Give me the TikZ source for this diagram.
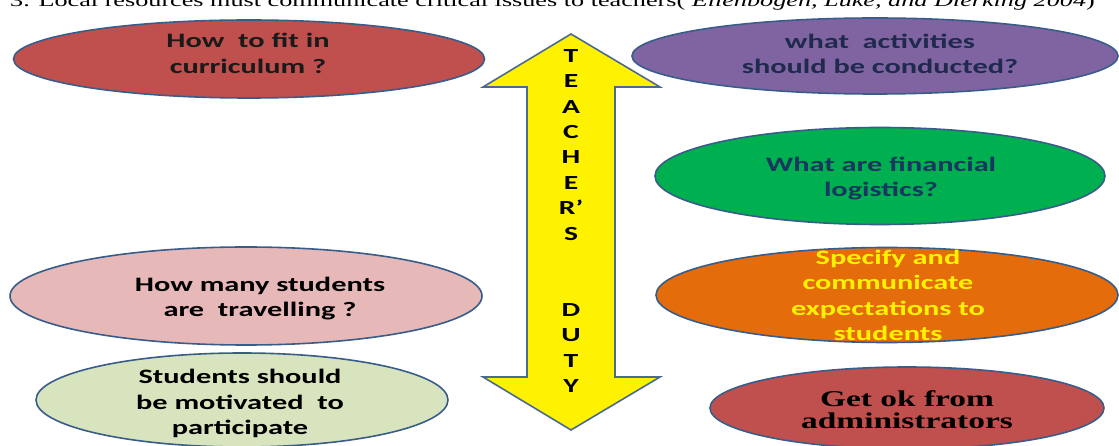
\documentclass[tikz,border=0pt]{standalone}
\usepackage{fontspec}
\setmainfont{Liberation Serif}
\newfontfamily\calb{Carlito}[FakeStretch=1.48]
\newfontfamily\timesb{Liberation Serif}[FakeStretch=1.48]
\usetikzlibrary{shapes.geometric}
\definecolor{bordc}{HTML}{385D8A}
\definecolor{arrowc}{HTML}{4A6A8F}
\definecolor{redc}{HTML}{C0504D}
\definecolor{purc}{HTML}{8064A2}
\definecolor{grnc}{HTML}{00B050}
\definecolor{orgc}{HTML}{E46C0A}
\definecolor{pinkc}{HTML}{E6B9B8}
\definecolor{lgrnc}{HTML}{D7E4BD}
\definecolor{navyc}{HTML}{1F2A4D}
\definecolor{navy2}{HTML}{17375E}
\definecolor{darkt}{HTML}{1A1A1A}
\tikzset{
  oval/.style={ellipse, draw=bordc, line width=1.6pt, inner sep=0pt},
  ovaltext/.style={align=center, inner sep=0pt, font=\calb\bfseries\fontsize{20.5}{25.5}\selectfont},
  serftext/.style={align=center, inner sep=0pt, font=\timesb\bfseries\fontsize{22.6}{22}\selectfont},
  dutytext/.style={align=center, inner sep=0pt, font=\calb\bfseries\fontsize{20}{25.4}\selectfont},
  bigarrow/.style={fill=yellow, draw=arrowc, line width=1.6pt, line join=miter}
}
\begin{document}
\begin{tikzpicture}[x=1pt,y=-1pt]
\useasboundingbox (0,0) rectangle (1119,446);
\clip (0,0) rectangle (1119,446);
\fill[white] (0,0) rectangle (1119,446);

\node[anchor=base west, inner sep=0pt, font=\timesb\fontsize{17.7}{19}\selectfont] (head) at (10,6.5)
  {3. Local resources must communicate critical issues to teachers( \textit{Ellenbogen, Luke, and Dierking 2004})};

% double arrow
\draw[bigarrow] (571,34) -- (660,87) -- (615,87) -- (615,377) -- (660,377) -- (571,430)
  -- (483,377) -- (527,377) -- (527,87) -- (483,87) -- cycle;
\node[dutytext] (duty) at (571,221) {T\\E\\A\\C\\H\\E\\R’\\S\\\mbox{}\\\mbox{}\\D\\U\\T\\Y};

% ellipses
\node[oval, fill=redc, minimum width=471pt, minimum height=78pt] (e1) at (249,59) {};
\node[oval, fill=purc, minimum width=486pt, minimum height=76pt] (e2) at (875,56) {};
\node[oval, fill=grnc, minimum width=450pt, minimum height=97pt] (e3) at (880,176) {};
\node[oval, fill=orgc, minimum width=462pt, minimum height=95pt] (e4) at (887,295) {};
\node[oval, fill=redc, minimum width=394pt, minimum height=82pt] (e5) at (907,408) {};
\node[oval, fill=pinkc, minimum width=472pt, minimum height=98pt] (e6) at (246,296) {};
\node[oval, fill=lgrnc, minimum width=412pt, minimum height=94pt] (e7) at (242,400) {};

% texts
\node[ovaltext, text=darkt] (t1) at (248,53.5) {How\ \ to fit in\\curriculum ?};
\node[ovaltext, text=navyc] (t2) at (880,54) {what\ \ activities\\should be conducted?};
\node[ovaltext, text=navy2] (t3) at (881,178.5) {What are financial\\logistics?};
\node[ovaltext, text=yellow] (t4) at (888,295.5) {Specify and\\communicate\\expectations to\\students};
\node[serftext, text=black] (t5) at (907,409.5) {Get ok from\\administrators};
\node[ovaltext, text=black] (t6) at (260,298.5) {How many students\\are\ \ travelling ?};
\node[ovaltext, text=black] (t7) at (240,403.5) {Students should\\be motivated\ \ to\\participate};
\end{tikzpicture}
\end{document}
